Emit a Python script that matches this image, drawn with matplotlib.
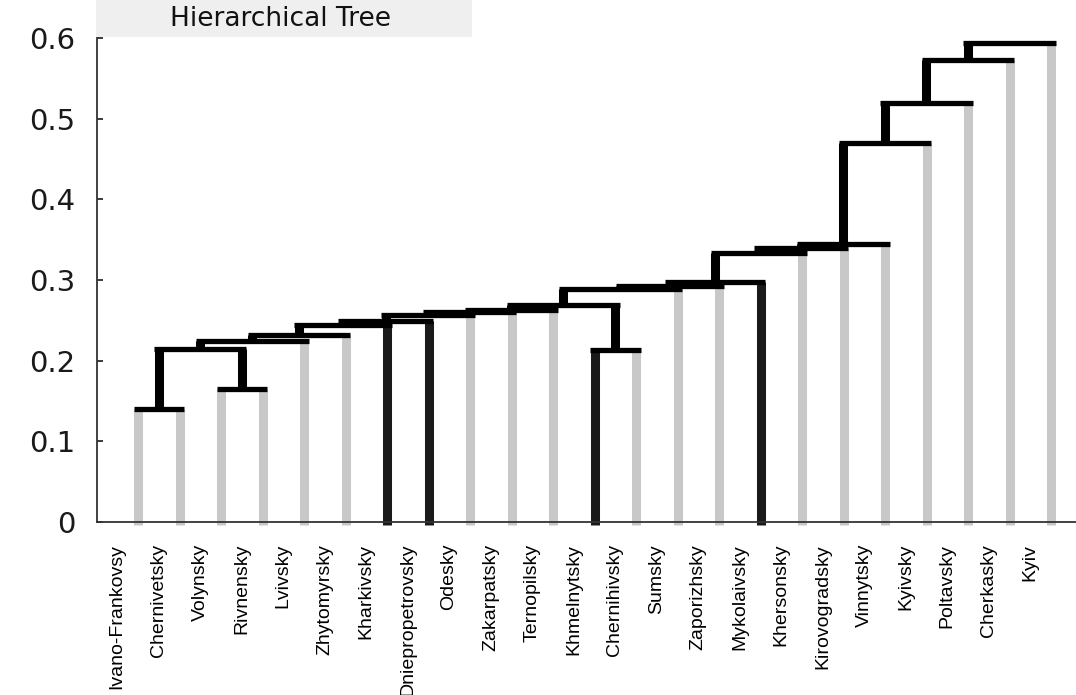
import matplotlib
matplotlib.use("Agg")
import matplotlib.pyplot as plt
from matplotlib.patches import Rectangle
from matplotlib.transforms import ScaledTranslation

# leaves in display order
leaf_names = [
    "Ivano-Frankovsy", "Chernivetsky", "Volynsky", "Rivnensky", "Lvivsky",
    "Zhytomyrsky", "Kharkivsky", "Dniepropetrovsky", "Odesky", "Zakarpatsky",
    "Ternopilsky", "Khmelnytsky", "Chernihivsky", "Sumsky", "Zaporizhsky",
    "Mykolaivsky", "Khersonsky", "Kirovogradsky", "Vinnytsky", "Kyivsky",
    "Poltavsky", "Cherkasky", "Kyiv",
]
dark_leaves = {"Kharkivsky", "Dniepropetrovsky", "Khmelnytsky", "Mykolaivsky"}

# linkage: new cluster id = 23 + row number
merge_left = [0, 2, 23, 25, 26, 27, 28, 29, 30, 31, 11, 32, 34, 35, 36,
              37, 38, 39, 40, 41, 42, 43]
merge_right = [1, 3, 24, 4, 5, 6, 7, 8, 9, 10, 12, 33, 13, 14, 15,
               16, 17, 18, 19, 20, 21, 22]
merge_height = [0.140, 0.165, 0.214, 0.224, 0.232, 0.244, 0.249, 0.257,
                0.260, 0.263, 0.213, 0.269, 0.289, 0.292, 0.298, 0.334,
                0.340, 0.345, 0.470, 0.519, 0.573, 0.594]

W, H = 1076, 695
fig = plt.figure(figsize=(W / 100, H / 100), dpi=100)
ax = fig.add_axes([96.5 / W, (H - 522) / H, 1 - 96.5 / W, (522 - 38) / H])

n = len(leaf_names)
xpos = {i: i + 1 for i in range(n)}
ypos = {i: 0.0 for i in range(n)}

vw = 6.5        # vertical stroke, pt
hw = 3.8        # horizontal stroke, pt
half = (9 / 2) / 41.5   # half vertical stroke in data units

for k, (a, b, h) in enumerate(zip(merge_left, merge_right, merge_height)):
    for c in (a, b):
        if c < n:
            col = "#1a1a1a" if leaf_names[c] in dark_leaves else "#c8c8c8"
            ax.plot([xpos[c], xpos[c]], [-0.004, h], color=col, lw=vw,
                    solid_capstyle="butt", clip_on=False, zorder=2)
        else:
            ax.plot([xpos[c], xpos[c]], [ypos[c], h], color="black", lw=vw,
                    solid_capstyle="butt", zorder=3)
    x0, x1 = sorted((xpos[a], xpos[b]))
    ax.plot([x0 - half, x1 + half], [h, h], color="black", lw=hw,
            solid_capstyle="butt", zorder=4)
    cid = n + k
    xpos[cid] = (xpos[a] + xpos[b]) / 2
    ypos[cid] = h

ax.set_xlim(0, (W - 96.5) / 41.5)
ax.set_ylim(0, 0.6)
ax.set_yticks([0, 0.1, 0.2, 0.3, 0.4, 0.5, 0.6])
ax.set_yticklabels(["0", "0.1", "0.2", "0.3", "0.4", "0.5", "0.6"])
ax.tick_params(axis="y", direction="in", length=4, width=1.2, pad=15,
               labelsize=21, colors="#1a1a1a")
ax.set_xticks([])
for s in ("top", "right"):
    ax.spines[s].set_visible(False)
for s in ("left", "bottom"):
    ax.spines[s].set_linewidth(1.3)
    ax.spines[s].set_color("#333333")

# leaf labels, shifted a little left of their lines
off = ax.get_xaxis_transform() + ScaledTranslation(-0.21, -0.22, fig.dpi_scale_trans)
for i, name in enumerate(leaf_names):
    ax.text(i + 1, 0, name, transform=off, rotation=90, ha="center", va="top",
            fontsize=14, family="Liberation Sans", color="black")

# title strip
fig.patches.append(Rectangle((96 / W, (H - 37) / H), (472 - 96) / W, 37 / H,
                             transform=fig.transFigure, facecolor="#efefef",
                             edgecolor="none", zorder=0))
fig.text(280 / W, (H - 19) / H, "Hierarchical Tree", ha="center", va="center",
         fontsize=19, color="#111111")

fig.savefig("out.png", dpi=100)
